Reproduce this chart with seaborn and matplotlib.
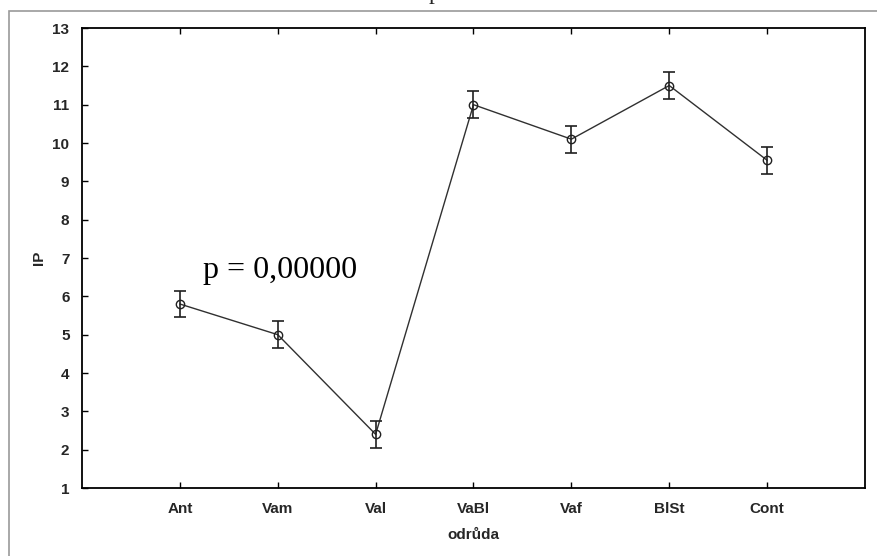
import matplotlib
matplotlib.use("Agg")
import matplotlib.pyplot as plt
import seaborn as sns
import pandas as pd
from matplotlib.patches import Rectangle

# Category means of IP with their error half-widths
odrudy = ["Ant", "Vam", "Val", "VaBl", "Vaf", "BlSt", "Cont"]
ip_mean = [5.8, 5.0, 2.4, 11.0, 10.1, 11.5, 9.55]
ip_err = [0.35, 0.35, 0.35, 0.35, 0.35, 0.35, 0.35]
y_ticks = list(range(1, 14))

sns.set_theme(style="white")
plt.rcParams["font.family"] = ["Liberation Sans Narrow", "Liberation Sans", "DejaVu Sans"]

df = pd.DataFrame({"odruda": odrudy, "IP": ip_mean, "err": ip_err})
df["pos"] = range(len(df))

fig = plt.figure(figsize=(8.77, 5.56), dpi=100)
ax = fig.add_axes([0.0935, 0.1223, 0.8928, 0.8273])

# outer frame of the graph window
fig.patches.append(Rectangle((9 / 877, -0.1), 2.0, 1 - 11 / 556 + 0.1,
                             transform=fig.transFigure, fill=False,
                             edgecolor="#9a9a9a", linewidth=1.2))

sns.lineplot(data=df, x="pos", y="IP", ax=ax, color="#303030", linewidth=1.0,
             marker="o", markersize=6, markerfacecolor="none",
             markeredgecolor="#202020", markeredgewidth=1.0)
ax.errorbar(df["pos"], df["IP"], yerr=df["err"], fmt="none",
            ecolor="#202020", elinewidth=1.2, capsize=4, capthick=1.2)

ax.set_xlim(-1, 7)
ax.set_ylim(1, 13)
ax.set_yticks(y_ticks)
ax.set_xticks(df["pos"])
ax.set_xticklabels(odrudy)
for lab in ax.get_xticklabels() + ax.get_yticklabels():
    lab.set_fontweight("bold")
    lab.set_fontsize(11)

ax.tick_params(axis="x", direction="in", length=4, width=1, color="black",
               top=True, bottom=True, pad=10)
ax.tick_params(axis="y", direction="in", length=4, width=1, color="black",
               left=True, right=False, pad=9)
for sp in ax.spines.values():
    sp.set_visible(True)
    sp.set_color("black")
    sp.set_linewidth(1.3)

ax.set_xlabel("odrůda", fontsize=11, fontweight="bold", labelpad=9)
ax.set_ylabel("IP", fontsize=11, fontweight="bold", labelpad=5)

ax.text(0.24, 6.68, "p = 0,00000", fontsize=23, va="center", ha="left",
        family=["Liberation Serif", "DejaVu Serif"], color="black")

fig.text(0.496, 1 + 1 / 556, "p", fontsize=17, ha="center", va="baseline",
         family=["Liberation Serif", "DejaVu Serif"])

fig.savefig("out.png", dpi=100)
